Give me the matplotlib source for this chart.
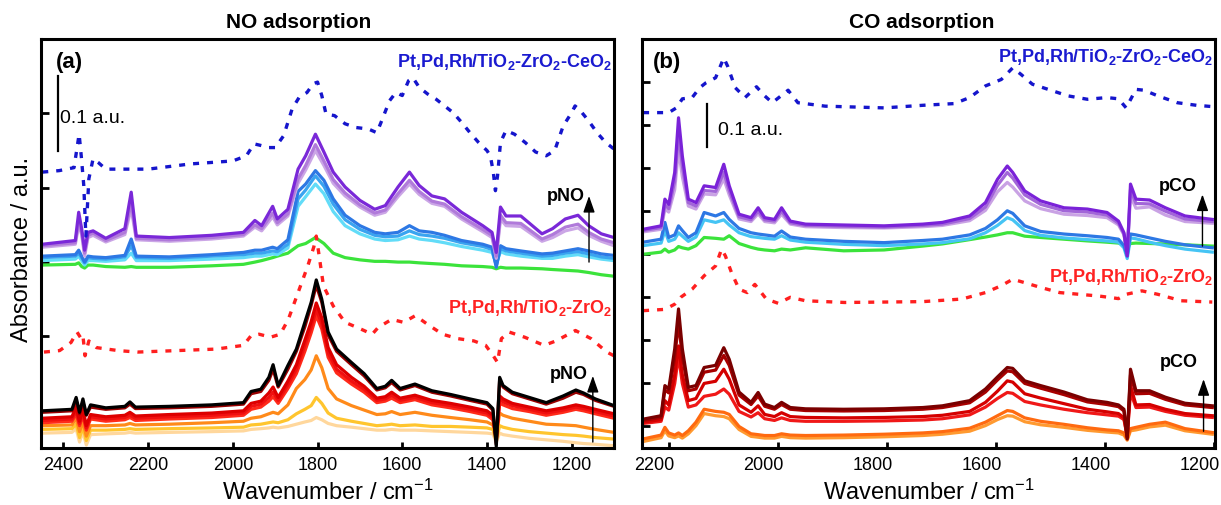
import numpy as np
import matplotlib.pyplot as plt
from matplotlib.transforms import ScaledTranslation

plt.rcParams['font.family'] = ['Liberation Sans', 'DejaVu Sans']

# ---------------- (a) NO adsorption ----------------
# Pt,Pd,Rh/TiO2-ZrO2-CeO2, spectra with rising pNO
wn_a_up = [2450, 2372, 2364, 2357, 2350, 2342, 2330, 2300, 2255, 2240, 2228, 2150, 2050, 1975, 1948,
           1932, 1906, 1895, 1870, 1846, 1828, 1805, 1785, 1763, 1735, 1700, 1665, 1640, 1610, 1583,
           1560, 1530, 1500, 1460, 1410, 1388, 1378, 1368, 1355, 1320, 1270, 1245, 1215, 1185, 1160,
           1130, 1100]
no_ce_purple = [0.274, 0.279, 0.317, 0.295, 0.266, 0.290, 0.292, 0.282, 0.295, 0.344, 0.285, 0.283, 0.286, 0.290, 0.306,
                0.299, 0.325, 0.308, 0.321, 0.375, 0.393, 0.422, 0.398, 0.371, 0.351, 0.333, 0.321, 0.326, 0.351, 0.371,
                0.353, 0.339, 0.335, 0.317, 0.299, 0.290, 0.263, 0.324, 0.312, 0.312, 0.288, 0.295, 0.308, 0.313, 0.299,
                0.288, 0.283]
no_ce_violet = [0.272, 0.276, 0.305, 0.290, 0.262, 0.286, 0.289, 0.279, 0.290, 0.330, 0.282, 0.280, 0.283, 0.287, 0.300,
                0.295, 0.316, 0.303, 0.315, 0.362, 0.380, 0.408, 0.386, 0.361, 0.343, 0.327, 0.316, 0.320, 0.342, 0.360,
                0.345, 0.332, 0.328, 0.311, 0.294, 0.286, 0.258, 0.313, 0.303, 0.302, 0.281, 0.287, 0.297, 0.301, 0.290,
                0.281, 0.276]
no_ce_lilac = [0.270, 0.274, 0.300, 0.287, 0.258, 0.283, 0.286, 0.277, 0.287, 0.322, 0.280, 0.278, 0.281, 0.285, 0.297,
               0.292, 0.311, 0.300, 0.312, 0.356, 0.374, 0.400, 0.380, 0.356, 0.339, 0.324, 0.313, 0.317, 0.338, 0.355,
               0.341, 0.329, 0.325, 0.308, 0.291, 0.283, 0.255, 0.308, 0.299, 0.298, 0.278, 0.283, 0.292, 0.296, 0.286,
               0.278, 0.272]
no_ce_blue = [0.258, 0.260, 0.266, 0.258, 0.250, 0.258, 0.257, 0.256, 0.259, 0.281, 0.258, 0.257, 0.260, 0.263, 0.266,
              0.266, 0.270, 0.268, 0.280, 0.345, 0.355, 0.373, 0.360, 0.335, 0.313, 0.299, 0.290, 0.288, 0.290, 0.299,
              0.292, 0.290, 0.286, 0.279, 0.274, 0.270, 0.243, 0.272, 0.268, 0.265, 0.261, 0.262, 0.265, 0.268, 0.265,
              0.261, 0.259]
no_ce_sky = [0.256, 0.258, 0.262, 0.256, 0.249, 0.256, 0.255, 0.254, 0.257, 0.272, 0.256, 0.255, 0.258, 0.260, 0.262,
             0.262, 0.265, 0.264, 0.274, 0.335, 0.347, 0.366, 0.352, 0.328, 0.307, 0.294, 0.286, 0.284, 0.285, 0.292,
             0.287, 0.285, 0.282, 0.276, 0.271, 0.267, 0.245, 0.268, 0.265, 0.262, 0.258, 0.259, 0.262, 0.264, 0.261,
             0.257, 0.255]
no_ce_cyan = [0.252, 0.254, 0.258, 0.252, 0.246, 0.252, 0.252, 0.251, 0.253, 0.262, 0.252, 0.252, 0.254, 0.256, 0.258,
              0.258, 0.261, 0.260, 0.269, 0.325, 0.338, 0.355, 0.342, 0.318, 0.299, 0.288, 0.281, 0.279, 0.280, 0.285,
              0.281, 0.279, 0.276, 0.271, 0.266, 0.263, 0.248, 0.264, 0.261, 0.258, 0.255, 0.255, 0.258, 0.260, 0.257,
              0.254, 0.252]
no_ce_green = [0.246, 0.247, 0.249, 0.244, 0.242, 0.246, 0.246, 0.244, 0.243, 0.244, 0.243, 0.243, 0.245, 0.247, 0.250,
               0.252, 0.256, 0.258, 0.262, 0.272, 0.275, 0.283, 0.275, 0.262, 0.256, 0.253, 0.251, 0.251, 0.250, 0.250,
               0.249, 0.248, 0.247, 0.245, 0.244, 0.243, 0.241, 0.243, 0.242, 0.242, 0.241, 0.240, 0.239, 0.238, 0.236,
               0.233, 0.231]

# reference (dotted) spectra
wn_a_ref_ce = [2450, 2410, 2375, 2363, 2358, 2352, 2347, 2340, 2330, 2318, 2300, 2200, 2100, 2000, 1968, 1950, 1935,
               1915, 1900, 1880, 1860, 1843, 1825, 1810, 1800, 1790, 1780, 1760, 1735, 1710, 1680, 1660, 1650, 1630,
               1615, 1600, 1585, 1575, 1560, 1540, 1520, 1500, 1480, 1460, 1440, 1420, 1400, 1392, 1385, 1380, 1375,
               1368, 1355, 1335, 1310, 1285, 1260, 1240, 1220, 1200, 1192, 1180, 1160, 1140, 1120, 1100]
no_ce_ref = [0.371, 0.373, 0.377, 0.422, 0.393, 0.353, 0.285, 0.362, 0.389, 0.384, 0.375, 0.375, 0.382, 0.386, 0.393,
             0.409, 0.407, 0.404, 0.404, 0.420, 0.456, 0.472, 0.478, 0.490, 0.492, 0.474, 0.449, 0.447, 0.436, 0.431,
             0.429, 0.424, 0.438, 0.467, 0.478, 0.474, 0.494, 0.498, 0.485, 0.476, 0.469, 0.460, 0.451, 0.438, 0.424,
             0.411, 0.400, 0.393, 0.371, 0.346, 0.366, 0.411, 0.427, 0.422, 0.411, 0.398, 0.393, 0.400, 0.433, 0.451,
             0.460, 0.454, 0.440, 0.424, 0.411, 0.402]
wn_a_ref_tz = [2446, 2409, 2382, 2368, 2358, 2354, 2349, 2340, 2322, 2271, 2225, 2132, 2040, 1975, 1957, 1938, 1911,
               1888, 1869, 1846, 1823, 1809, 1803, 1786, 1763, 1735, 1698, 1671, 1657, 1625, 1597, 1569, 1542, 1505,
               1468, 1431, 1403, 1385, 1375, 1366, 1348, 1311, 1265, 1237, 1191, 1154, 1117, 1100]
no_tz_ref = [0.129, 0.131, 0.142, 0.156, 0.147, 0.151, 0.124, 0.144, 0.135, 0.131, 0.129, 0.131, 0.133, 0.138, 0.151,
             0.153, 0.149, 0.153, 0.173, 0.209, 0.245, 0.270, 0.285, 0.218, 0.191, 0.169, 0.160, 0.153, 0.162, 0.173,
             0.169, 0.178, 0.167, 0.153, 0.147, 0.144, 0.138, 0.124, 0.115, 0.147, 0.156, 0.149, 0.138, 0.144, 0.158,
             0.147, 0.129, 0.124]

# Pt,Pd,Rh/TiO2-ZrO2, spectra with rising pNO
wn_a_lo = [2450, 2380, 2370, 2362, 2354, 2346, 2336, 2300, 2255, 2243, 2230, 2150, 2050, 1975, 1957, 1934, 1915,
           1905, 1893, 1870, 1850, 1830, 1815, 1803, 1790, 1775, 1755, 1720, 1690, 1660, 1640, 1625, 1605, 1570,
           1530, 1486, 1440, 1400, 1386, 1378, 1370, 1362, 1340, 1300, 1260, 1220, 1190, 1172, 1144, 1100]
no_tz_black = [0.050, 0.052, 0.068, 0.048, 0.066, 0.045, 0.058, 0.054, 0.056, 0.062, 0.055, 0.056, 0.058, 0.061, 0.076,
               0.079, 0.095, 0.112, 0.084, 0.111, 0.133, 0.169, 0.196, 0.226, 0.200, 0.156, 0.133, 0.115, 0.100, 0.080,
               0.083, 0.091, 0.080, 0.086, 0.077, 0.072, 0.066, 0.061, 0.053, 0.002, 0.095, 0.084, 0.075, 0.068, 0.061,
               0.070, 0.078, 0.074, 0.066, 0.057]
no_tz_darkred = [0.048, 0.050, 0.064, 0.046, 0.062, 0.044, 0.055, 0.052, 0.054, 0.059, 0.053, 0.054, 0.056, 0.059, 0.073,
                 0.076, 0.091, 0.106, 0.082, 0.106, 0.130, 0.163, 0.192, 0.219, 0.196, 0.152, 0.130, 0.112, 0.097, 0.078,
                 0.081, 0.088, 0.078, 0.084, 0.075, 0.070, 0.064, 0.059, 0.051, 0.005, 0.092, 0.082, 0.073, 0.066, 0.059,
                 0.067, 0.075, 0.072, 0.064, 0.056]
no_tz_red1 = [0.040, 0.042, 0.055, 0.036, 0.052, 0.030, 0.045, 0.042, 0.044, 0.048, 0.043, 0.045, 0.047, 0.050, 0.060,
              0.063, 0.074, 0.082, 0.068, 0.090, 0.112, 0.145, 0.170, 0.195, 0.175, 0.135, 0.112, 0.095, 0.083, 0.067,
              0.069, 0.075, 0.067, 0.071, 0.064, 0.060, 0.055, 0.050, 0.044, 0.010, 0.070, 0.066, 0.060, 0.055, 0.050,
              0.054, 0.058, 0.056, 0.052, 0.046]
no_tz_red2 = [0.037, 0.039, 0.050, 0.033, 0.048, 0.027, 0.042, 0.039, 0.041, 0.044, 0.040, 0.042, 0.044, 0.047, 0.056,
              0.059, 0.068, 0.075, 0.064, 0.085, 0.106, 0.138, 0.163, 0.186, 0.167, 0.128, 0.106, 0.090, 0.079, 0.064,
              0.066, 0.071, 0.064, 0.068, 0.061, 0.057, 0.052, 0.047, 0.041, 0.012, 0.065, 0.062, 0.057, 0.052, 0.047,
              0.051, 0.055, 0.053, 0.049, 0.043]
no_tz_red3 = [0.034, 0.036, 0.046, 0.030, 0.044, 0.024, 0.039, 0.036, 0.038, 0.041, 0.037, 0.039, 0.041, 0.044, 0.052,
              0.055, 0.063, 0.069, 0.060, 0.080, 0.100, 0.130, 0.155, 0.178, 0.160, 0.122, 0.101, 0.086, 0.075, 0.061,
              0.063, 0.067, 0.061, 0.065, 0.058, 0.054, 0.049, 0.044, 0.038, 0.014, 0.060, 0.058, 0.053, 0.049, 0.044,
              0.048, 0.052, 0.050, 0.046, 0.040]
no_tz_orange = [0.030, 0.031, 0.040, 0.022, 0.036, 0.016, 0.030, 0.030, 0.031, 0.033, 0.031, 0.032, 0.034, 0.036, 0.040,
                0.042, 0.046, 0.048, 0.046, 0.058, 0.080, 0.092, 0.105, 0.124, 0.108, 0.080, 0.066, 0.057, 0.051, 0.045,
                0.046, 0.049, 0.045, 0.048, 0.044, 0.041, 0.038, 0.035, 0.031, 0.015, 0.047, 0.044, 0.040, 0.036, 0.032,
                0.031, 0.030, 0.028, 0.025, 0.021]
no_tz_gold = [0.025, 0.026, 0.032, 0.014, 0.028, 0.010, 0.024, 0.024, 0.025, 0.026, 0.025, 0.026, 0.027, 0.028, 0.031,
              0.032, 0.034, 0.035, 0.034, 0.038, 0.046, 0.052, 0.057, 0.068, 0.060, 0.047, 0.040, 0.036, 0.033, 0.030,
              0.031, 0.032, 0.030, 0.031, 0.029, 0.029, 0.028, 0.027, 0.025, 0.010, 0.030, 0.028, 0.025, 0.022, 0.020,
              0.018, 0.017, 0.016, 0.014, 0.012]
no_tz_peach = [0.020, 0.021, 0.026, 0.008, 0.022, 0.004, 0.018, 0.019, 0.020, 0.021, 0.020, 0.021, 0.022, 0.023, 0.025,
               0.026, 0.027, 0.028, 0.027, 0.029, 0.032, 0.035, 0.037, 0.041, 0.038, 0.033, 0.030, 0.028, 0.026, 0.024,
               0.024, 0.025, 0.024, 0.024, 0.023, 0.022, 0.021, 0.020, 0.019, 0.008, 0.020, 0.018, 0.016, 0.013, 0.011,
               0.009, 0.007, 0.006, 0.005, 0.003]

# ---------------- (b) CO adsorption ----------------
wn_b = [2248, 2215, 2208, 2201, 2190, 2183, 2176, 2165, 2151, 2136, 2115, 2100, 2090, 2072, 2050, 2037, 2025, 2007,
        1994, 1978, 1950, 1880, 1806, 1735, 1699, 1649, 1620, 1598, 1580, 1570, 1548, 1519, 1476, 1433, 1397, 1376,
        1366, 1360, 1354, 1344, 1319, 1290, 1254, 1204]
co_ce_purple = [0.508, 0.516, 0.578, 0.566, 0.640, 0.767, 0.678, 0.578, 0.570, 0.609, 0.605, 0.659, 0.609, 0.543, 0.535,
                0.558, 0.535, 0.531, 0.558, 0.527, 0.520, 0.518, 0.516, 0.520, 0.524, 0.539, 0.570, 0.624, 0.655, 0.640,
                0.597, 0.574, 0.558, 0.555, 0.547, 0.527, 0.500, 0.446, 0.613, 0.578, 0.576, 0.558, 0.539, 0.531]
co_ce_violet = [0.505, 0.512, 0.565, 0.556, 0.620, 0.732, 0.655, 0.570, 0.562, 0.598, 0.596, 0.640, 0.598, 0.537, 0.530,
                0.550, 0.530, 0.527, 0.550, 0.523, 0.517, 0.515, 0.513, 0.517, 0.520, 0.533, 0.560, 0.610, 0.640, 0.627,
                0.588, 0.566, 0.551, 0.548, 0.541, 0.522, 0.497, 0.450, 0.600, 0.568, 0.567, 0.550, 0.532, 0.526]
co_ce_lilac = [0.502, 0.508, 0.555, 0.548, 0.600, 0.694, 0.630, 0.562, 0.555, 0.590, 0.588, 0.625, 0.588, 0.532, 0.526,
               0.544, 0.526, 0.523, 0.543, 0.520, 0.514, 0.512, 0.511, 0.514, 0.517, 0.528, 0.552, 0.595, 0.617, 0.606,
               0.574, 0.556, 0.543, 0.540, 0.535, 0.518, 0.495, 0.455, 0.585, 0.557, 0.560, 0.541, 0.526, 0.522]
co_ce_blue = [0.478, 0.485, 0.524, 0.489, 0.495, 0.516, 0.505, 0.489, 0.500, 0.547, 0.539, 0.547, 0.531, 0.510, 0.500,
              0.497, 0.495, 0.492, 0.504, 0.490, 0.485, 0.480, 0.477, 0.482, 0.485, 0.495, 0.510, 0.530, 0.551, 0.545,
              0.516, 0.503, 0.497, 0.493, 0.489, 0.485, 0.470, 0.446, 0.497, 0.495, 0.488, 0.480, 0.472, 0.465]
co_ce_sky = [0.470, 0.476, 0.505, 0.480, 0.485, 0.500, 0.492, 0.480, 0.490, 0.530, 0.524, 0.530, 0.518, 0.500, 0.491,
             0.489, 0.487, 0.485, 0.493, 0.483, 0.478, 0.473, 0.470, 0.474, 0.477, 0.486, 0.500, 0.517, 0.535, 0.530,
             0.505, 0.494, 0.488, 0.484, 0.481, 0.478, 0.465, 0.440, 0.488, 0.486, 0.478, 0.470, 0.462, 0.455]
co_ce_green = [0.450, 0.455, 0.462, 0.455, 0.460, 0.468, 0.465, 0.462, 0.470, 0.489, 0.487, 0.485, 0.493, 0.475, 0.466,
               0.462, 0.460, 0.458, 0.462, 0.460, 0.465, 0.458, 0.460, 0.469, 0.474, 0.484, 0.490, 0.495, 0.500, 0.500,
               0.492, 0.489, 0.485, 0.481, 0.478, 0.476, 0.472, 0.465, 0.475, 0.476, 0.475, 0.474, 0.472, 0.469]
co_tz_maroon = [0.067, 0.075, 0.145, 0.137, 0.230, 0.323, 0.230, 0.141, 0.145, 0.187, 0.192, 0.233, 0.206, 0.130, 0.106,
                0.129, 0.102, 0.094, 0.106, 0.094, 0.091, 0.090, 0.091, 0.094, 0.098, 0.110, 0.137, 0.165, 0.187, 0.185,
                0.156, 0.145, 0.130, 0.112, 0.106, 0.100, 0.090, 0.021, 0.183, 0.133, 0.133, 0.118, 0.104, 0.098]
co_tz_darkred = [0.064, 0.071, 0.135, 0.128, 0.210, 0.292, 0.212, 0.133, 0.137, 0.176, 0.181, 0.215, 0.192, 0.123, 0.101,
                 0.121, 0.097, 0.090, 0.101, 0.090, 0.087, 0.086, 0.087, 0.090, 0.094, 0.105, 0.130, 0.158, 0.179, 0.177,
                 0.150, 0.139, 0.124, 0.107, 0.101, 0.096, 0.086, 0.025, 0.170, 0.126, 0.127, 0.113, 0.100, 0.094]
co_tz_red1 = [0.060, 0.066, 0.110, 0.100, 0.170, 0.237, 0.170, 0.110, 0.115, 0.150, 0.155, 0.183, 0.160, 0.100, 0.083,
              0.098, 0.078, 0.073, 0.082, 0.073, 0.071, 0.070, 0.071, 0.073, 0.076, 0.085, 0.106, 0.132, 0.156, 0.153,
              0.126, 0.116, 0.103, 0.090, 0.084, 0.080, 0.070, 0.025, 0.145, 0.100, 0.101, 0.090, 0.080, 0.075]
co_tz_red2 = [0.057, 0.062, 0.095, 0.088, 0.150, 0.214, 0.150, 0.095, 0.100, 0.120, 0.125, 0.137, 0.125, 0.085, 0.072,
              0.082, 0.068, 0.064, 0.070, 0.064, 0.062, 0.062, 0.063, 0.065, 0.068, 0.077, 0.095, 0.115, 0.129, 0.127,
              0.108, 0.100, 0.090, 0.082, 0.077, 0.074, 0.066, 0.028, 0.130, 0.094, 0.095, 0.085, 0.076, 0.071]
co_tz_orange = [0.021, 0.030, 0.048, 0.035, 0.030, 0.035, 0.029, 0.040, 0.060, 0.090, 0.085, 0.083, 0.078, 0.050, 0.033,
                0.031, 0.029, 0.029, 0.033, 0.030, 0.029, 0.030, 0.032, 0.035, 0.038, 0.046, 0.060, 0.075, 0.087, 0.085,
                0.070, 0.062, 0.055, 0.047, 0.042, 0.040, 0.035, 0.020, 0.045, 0.048, 0.055, 0.060, 0.045, 0.036]
co_tz_amber = [0.015, 0.024, 0.040, 0.028, 0.024, 0.028, 0.023, 0.033, 0.052, 0.080, 0.075, 0.073, 0.068, 0.043, 0.027,
               0.025, 0.023, 0.023, 0.027, 0.024, 0.023, 0.024, 0.026, 0.029, 0.032, 0.039, 0.052, 0.066, 0.075, 0.074,
               0.061, 0.054, 0.048, 0.041, 0.037, 0.035, 0.030, 0.018, 0.040, 0.042, 0.049, 0.053, 0.040, 0.032]

wn_b_ref_ce = [2248, 2201, 2187, 2176, 2158, 2144, 2133, 2115, 2100, 2093, 2079, 2061, 2040, 2025, 2011, 1982, 1964,
               1914, 1806, 1735, 1677, 1649, 1620, 1591, 1570, 1555, 1534, 1505, 1469, 1433, 1397, 1376, 1362, 1344,
               1329, 1304, 1268, 1233, 1204]
co_ce_ref = [0.779, 0.779, 0.790, 0.811, 0.814, 0.837, 0.848, 0.860, 0.906, 0.887, 0.837, 0.814, 0.839, 0.818, 0.802,
             0.831, 0.802, 0.794, 0.790, 0.796, 0.800, 0.814, 0.841, 0.856, 0.883, 0.868, 0.845, 0.833, 0.818, 0.810,
             0.814, 0.811, 0.790, 0.833, 0.831, 0.818, 0.802, 0.796, 0.793]
wn_b_ref_tz = [2248, 2208, 2190, 2179, 2158, 2136, 2115, 2104, 2097, 2086, 2072, 2057, 2043, 2022, 2000, 1978, 1950,
               1878, 1735, 1663, 1620, 1591, 1570, 1548, 1519, 1484, 1412, 1376, 1362, 1333, 1304, 1261, 1204]
co_tz_ref = [0.319, 0.322, 0.334, 0.350, 0.369, 0.400, 0.423, 0.462, 0.446, 0.408, 0.369, 0.361, 0.380, 0.346, 0.336,
             0.350, 0.342, 0.338, 0.340, 0.346, 0.361, 0.377, 0.392, 0.384, 0.373, 0.361, 0.353, 0.347, 0.357, 0.365,
             0.357, 0.342, 0.339]

BLUE_TXT = '#1a1ad0'
RED_TXT = '#ff2222'
lab_ce = r'Pt,Pd,Rh/TiO$\mathregular{_2}$-ZrO$\mathregular{_2}$-CeO$\mathregular{_2}$'
lab_tz = r'Pt,Pd,Rh/TiO$\mathregular{_2}$-ZrO$\mathregular{_2}$'

fig = plt.figure(figsize=(12.21, 5.06), dpi=100)
ax1 = fig.add_axes([41 / 1221, 57 / 506, 573 / 1221, 409 / 506])
ax2 = fig.add_axes([642 / 1221, 57 / 506, 573 / 1221, 409 / 506])


def draw(ax, x, curves):
    for y, c in curves:
        ax.plot(x, y, color=c, lw=2.3, solid_joinstyle='round')


draw(ax1, wn_a_up, [(no_ce_green, '#3be33b'), (no_ce_cyan, '#62dcf8'), (no_ce_sky, '#3aa4f0'),
                    (no_ce_blue, '#2d78e4'), (no_ce_lilac, '#cba6e6'), (no_ce_violet, '#b07ada'),
                    (no_ce_purple, '#7a28d8')])
draw(ax1, wn_a_lo, [(no_tz_peach, '#ffd79c'), (no_tz_gold, '#ffc52e'), (no_tz_orange, '#ff8a1a'),
                    (no_tz_red3, '#ff2a1a'), (no_tz_red2, '#f01010'), (no_tz_red1, '#dd0000'),
                    (no_tz_darkred, '#990000'), (no_tz_black, '#000000')])
ax1.plot(wn_a_ref_ce, no_ce_ref, color='#1515cc', lw=2.4, ls=(0, (1.8, 2.4)))
ax1.plot(wn_a_ref_tz, no_tz_ref, color='#ff1f1f', lw=2.4, ls=(0, (1.8, 2.4)))

draw(ax2, wn_b, [(co_ce_green, '#3be33b'), (co_ce_sky, '#45c4f4'), (co_ce_blue, '#2d78e4'),
                 (co_ce_lilac, '#c9a2e4'), (co_ce_violet, '#a266d8'), (co_ce_purple, '#7a22d8')])
draw(ax2, wn_b, [(co_tz_amber, '#ff9a30'), (co_tz_orange, '#ff6a10'), (co_tz_red2, '#f01818'),
                 (co_tz_red1, '#d40000'), (co_tz_darkred, '#a80000'), (co_tz_maroon, '#7a0000')])
ax2.plot(wn_b_ref_ce, co_ce_ref, color='#1515cc', lw=2.4, ls=(0, (1.8, 2.4)))
ax2.plot(wn_b_ref_tz, co_tz_ref, color='#ff1f1f', lw=2.4, ls=(0, (1.8, 2.4)))

ax1.set_xlim(2453, 1100)
ax1.set_ylim(0, 0.55)
ax1.set_xticks([2400, 2200, 2000, 1800, 1600, 1400, 1200])
ax1.set_yticks(np.arange(0.05, 0.5, 0.1))
ax2.set_xlim(2250, 1199)
ax2.set_ylim(0, 0.95)
ax2.set_xticks([2200, 2000, 1800, 1600, 1400, 1200])
ax2.set_yticks(np.arange(0.05, 0.9, 0.1))

for ax in (ax1, ax2):
    for s in ax.spines.values():
        s.set_linewidth(2.2)
    ax.tick_params(axis='x', direction='in', length=4.5, width=2, labelsize=13, pad=6)
    ax.tick_params(axis='y', direction='in', length=6, width=2, labelleft=False)
    ax.set_xlabel('Wavenumber / cm$\\mathregular{^{-1}}$', fontsize=17, labelpad=4)

# labels of panel (b) sit a little left of their ticks
for lbl in ax2.get_xticklabels():
    lbl.set_transform(lbl.get_transform() + ScaledTranslation(-0.15, 0, fig.dpi_scale_trans))

fig.text(0.018, 0.508, 'Absorbance / a.u.', rotation=90, fontsize=17, ha='center', va='center')
fig.text(299 / 1221, 1 - 23 / 506, 'NO adsorption', fontsize=15, fontweight='bold', ha='center', va='center')
fig.text(922 / 1221, 1 - 23 / 506, 'CO adsorption', fontsize=15, fontweight='bold', ha='center', va='center')

ax1.text(0.026, 0.944, '(a)', transform=ax1.transAxes, fontsize=16, fontweight='bold', va='center')
ax2.text(0.019, 0.944, '(b)', transform=ax2.transAxes, fontsize=16, fontweight='bold', va='center')
ax1.text(0.997, 0.946, lab_ce, transform=ax1.transAxes, fontsize=13, fontweight='bold', color=BLUE_TXT,
         ha='right', va='center')
ax2.text(0.997, 0.958, lab_ce, transform=ax2.transAxes, fontsize=13, fontweight='bold', color=BLUE_TXT,
         ha='right', va='center')
ax1.text(0.997, 0.345, lab_tz, transform=ax1.transAxes, fontsize=13, fontweight='bold', color=RED_TXT,
         ha='right', va='center')
ax2.text(0.997, 0.421, lab_tz, transform=ax2.transAxes, fontsize=13, fontweight='bold', color=RED_TXT,
         ha='right', va='center')

# 0.1 a.u. scale bars
ax1.plot([2414, 2414], [0.40, 0.50], color='k', lw=1.6)
ax1.text(2407, 0.445, '0.1 a.u.', fontsize=14, va='center')
ax2.plot([2130, 2130], [0.70, 0.80], color='k', lw=1.6)
ax2.text(2111, 0.740, '0.1 a.u.', fontsize=14, va='center')

# pressure arrows
arr = dict(arrowstyle='-|>,head_width=0.35,head_length=1.0', color='k', lw=1.0, shrinkA=0, shrinkB=0)
ax1.annotate('', xy=(1159, 0.339), xytext=(1159, 0.250), arrowprops=arr)
ax1.text(1168, 0.340, 'pNO', fontsize=13, fontweight='bold', ha='right', va='center')
ax1.annotate('', xy=(1150, 0.097), xytext=(1150, 0.008), arrowprops=arr)
ax1.text(1162, 0.100, 'pNO', fontsize=13, fontweight='bold', ha='right', va='center')
ax2.annotate('', xy=(1222, 0.589), xytext=(1222, 0.469), arrowprops=arr)
ax2.text(1232, 0.610, 'pCO', fontsize=13, fontweight='bold', ha='right', va='center')
ax2.annotate('', xy=(1220, 0.160), xytext=(1220, 0.039), arrowprops=arr)
ax2.text(1230, 0.202, 'pCO', fontsize=13, fontweight='bold', ha='right', va='center')

fig.savefig('out.png', dpi=100)
